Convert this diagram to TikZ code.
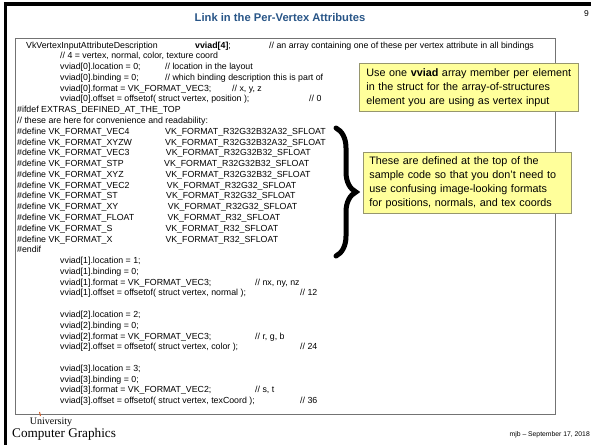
\documentclass[tikz,border=0pt]{standalone}
\usepackage{fontspec}
\setmainfont{Liberation Sans}
\newfontfamily\logofont{Liberation Serif}
\usetikzlibrary{decorations.pathreplacing}

\definecolor{titleblue}{RGB}{40,85,135}
\definecolor{boxedge}{RGB}{115,115,115}
\definecolor{calloutfill}{RGB}{255,255,155}
\definecolor{calloutedge}{RGB}{150,150,110}
\definecolor{logomark}{RGB}{215,95,40}

\begin{document}
\begin{tikzpicture}[x=1pt,y=-1pt,
  frame/.style={line width=3.5pt,black},
  codebox/.style={draw=boxedge,line width=1pt,inner sep=0pt,anchor=north west},
  code/.style={anchor=base west,inner sep=0pt,font=\fontsize{8.8}{10}\selectfont},
  callout/.style={draw=calloutedge,fill=calloutfill,line width=0.7pt,anchor=north west,
    align=left,inner ysep=3pt,font=\fontsize{10.8}{14}\selectfont},
  bracestyle/.style={decorate,decoration={brace,amplitude=20pt},line width=5pt,line cap=round},
  titletext/.style={font=\fontsize{11.2}{13}\selectfont\bfseries,text=titleblue,inner sep=0pt},
  small/.style={anchor=base west,inner sep=0pt}]
\useasboundingbox (0,0) rectangle (591,445);

% slide frame
\draw[frame] (3.75,4) -- (591,4);
\draw[frame] (5.5,2.25) -- (5.5,445);

% title and page number
\node[titletext] (title) at (280,17) {Link in the Per-Vertex Attributes};
\node[small,font=\fontsize{8.5}{10}\selectfont] (pagenum) at (584,16) {9};

% code listing frame
\node[codebox,minimum width=540,minimum height=376] (codebox) at (15,38) {};

% declaration
\node[code] (l1a) at (26,48) {VkVertexInputAttributeDescription};
\node[code] (l1b) at (195,48) {\textbf{vviad[4]};};
\node[code] (l1c) at (269,48) {// an array containing one of these per vertex attribute in all bindings};
\node[code] (l2) at (60,58.78) {// 4 = vertex, normal, color, texture coord};

% attribute 0
\node[code] (l3a) at (60,69.56) {vviad[0].location = 0;};
\node[code] (l3b) at (165,69.56) {// location in the layout};
\node[code] (l4a) at (60,80.34) {vviad[0].binding = 0;};
\node[code] (l4b) at (165,80.34) {// which binding description this is part of};
\node[code] (l5a) at (60,91.12) {vviad[0].format = VK\_FORMAT\_VEC3;};
\node[code] (l5b) at (232,91.12) {// x, y, z};
\node[code] (l6a) at (60,101.9) {vviad[0].offset = offsetof( struct vertex, position );};
\node[code] (l6b) at (309,101.9) {// 0};

% convenience defines
\node[code] (l7) at (17,112.68) {\#ifdef EXTRAS\_DEFINED\_AT\_THE\_TOP};
\node[code] (l8) at (17,123.46) {// these are here for convenience and readability:};
\node[code] (d1a) at (17,134.24) {\#define VK\_FORMAT\_VEC4};
\node[code] (d1b) at (165,134.24) {VK\_FORMAT\_R32G32B32A32\_SFLOAT};
\node[code] (d2a) at (17,145.02) {\#define VK\_FORMAT\_XYZW};
\node[code] (d2b) at (165,145.02) {VK\_FORMAT\_R32G32B32A32\_SFLOAT};
\node[code] (d3a) at (17,155.8) {\#define VK\_FORMAT\_VEC3};
\node[code] (d3b) at (165.7,155.8) {VK\_FORMAT\_R32G32B32\_SFLOAT};
\node[code] (d4a) at (17,166.58) {\#define VK\_FORMAT\_STP};
\node[code] (d4b) at (164,166.58) {VK\_FORMAT\_R32G32B32\_SFLOAT};
\node[code] (d5a) at (17,177.36) {\#define VK\_FORMAT\_XYZ};
\node[code] (d5b) at (165.3,177.36) {VK\_FORMAT\_R32G32B32\_SFLOAT};
\node[code] (d6a) at (17,188.14) {\#define VK\_FORMAT\_VEC2};
\node[code] (d6b) at (166.7,188.14) {VK\_FORMAT\_R32G32\_SFLOAT};
\node[code] (d7a) at (17,198.92) {\#define VK\_FORMAT\_ST};
\node[code] (d7b) at (166,198.92) {VK\_FORMAT\_R32G32\_SFLOAT};
\node[code] (d8a) at (17,209.7) {\#define VK\_FORMAT\_XY};
\node[code] (d8b) at (167.7,209.7) {VK\_FORMAT\_R32G32\_SFLOAT};
\node[code] (d9a) at (17,220.48) {\#define VK\_FORMAT\_FLOAT};
\node[code] (d9b) at (167.3,220.48) {VK\_FORMAT\_R32\_SFLOAT};
\node[code] (d10a) at (17,231.26) {\#define VK\_FORMAT\_S};
\node[code] (d10b) at (165.3,231.26) {VK\_FORMAT\_R32\_SFLOAT};
\node[code] (d11a) at (17,242.04) {\#define VK\_FORMAT\_X};
\node[code] (d11b) at (165.3,242.04) {VK\_FORMAT\_R32\_SFLOAT};
\node[code] (l20) at (17,252.82) {\#endif};

% attribute 1
\node[code] (a1l) at (60,263.6) {vviad[1].location = 1;};
\node[code] (a1b) at (60,274.38) {vviad[1].binding = 0;};
\node[code] (a1f) at (60,285.16) {vviad[1].format = VK\_FORMAT\_VEC3;};
\node[code] (a1fc) at (255,285.16) {// nx, ny, nz};
\node[code] (a1o) at (60,295.94) {vviad[1].offset = offsetof( struct vertex, normal );};
\node[code] (a1oc) at (300,295.94) {// 12};

% attribute 2
\node[code] (a2l) at (60,317.5) {vviad[2].location = 2;};
\node[code] (a2b) at (60,328.28) {vviad[2].binding = 0;};
\node[code] (a2f) at (60,339.06) {vviad[2].format = VK\_FORMAT\_VEC3;};
\node[code] (a2fc) at (255,339.06) {// r, g, b};
\node[code] (a2o) at (60,349.84) {vviad[2].offset = offsetof( struct vertex, color );};
\node[code] (a2oc) at (300,349.84) {// 24};

% attribute 3
\node[code] (a3l) at (60,371.4) {vviad[3].location = 3;};
\node[code] (a3b) at (60,382.18) {vviad[3].binding = 0;};
\node[code] (a3f) at (60,392.96) {vviad[3].format = VK\_FORMAT\_VEC2;};
\node[code] (a3fc) at (255,392.96) {// s, t};
\node[code] (a3o) at (60,403.74) {vviad[3].offset = offsetof( struct vertex, texCoord );};
\node[code] (a3oc) at (300,403.74) {// 36};

% brace grouping the defines
\coordinate (bracetop) at (336,128);
\coordinate (bracebot) at (336,256);
\draw[bracestyle] (bracetop) -- (bracebot);

% callouts
\node[callout,text width=205pt,inner xsep=7pt,minimum width=219,minimum height=48] (note1) at (359,63)
  {Use one \textbf{vviad} array member per element\\in the struct for the array-of-structures\\element you are using as vertex input};
\node[callout,text width=196pt,inner xsep=6pt,minimum width=208,minimum height=61] (note2) at (363,152)
  {These are defined at the top of the\\sample code so that you don’t need to\\use confusing image-looking formats\\for positions, normals, and tex coords};

% logo and footer
\draw[logomark,line width=1pt] (39.5,412) -- (40.5,416);
\node[anchor=base,inner sep=0pt,font=\logofont\fontsize{10}{11}\selectfont] (univ) at (51,424) {University};
\node[small,font=\logofont\fontsize{13.2}{14}\selectfont] (cg) at (12,437) {Computer Graphics};
\node[anchor=base east,inner sep=0pt,font=\fontsize{6.8}{8}\selectfont] (footer) at (590,436) {mjb – September 17, 2018};
\end{tikzpicture}
\end{document}
